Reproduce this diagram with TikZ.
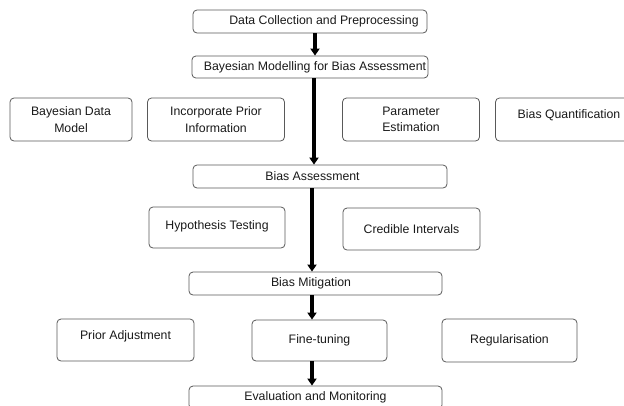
\documentclass[tikz,border=0pt]{standalone}
\usepackage{fontspec}
\setmainfont{Liberation Sans}
\usepackage{tikz}
\usetikzlibrary{arrows.meta,positioning}

\begin{document}
\begin{tikzpicture}[x=1pt,y=1pt,node distance=57pt,semithick]
    \tikzstyle{box}=[draw=black!65,line width=0.8pt,rounded corners=4pt,align=center,
        font=\fontsize{12.3}{16.5}\selectfont,text=black!90,inner sep=2pt]
    \tikzstyle{wide}=[box,minimum height=23pt]
    \tikzstyle{side}=[box,minimum width=137pt,minimum height=42pt]
    \tikzstyle{hitext}=[text height=9pt,text depth=10.2pt]
    \tikzstyle{midtext}=[text height=9pt,text depth=5.2pt]
    \tikzstyle{flow}=[line width=3.6pt,-{Triangle[width=9pt,length=7pt]}]

    \useasboundingbox (0,0) rectangle (624,-405);

    % main chain
    \node[wide,minimum width=234pt] (collect) at (310,-21.5) {\hspace*{28pt}Data Collection and Preprocessing};
    \node[wide,minimum width=235pt,minimum height=22pt] (model) [node distance=45.5pt,below of=collect] {\hspace*{10pt}Bayesian Modelling for Bias Assessment};
    \node[wide,minimum width=254pt] (assess) [node distance=109.5pt,below of=model,xshift=10pt] {Bias Assessment\hspace*{15pt}};
    \node[wide,minimum width=253pt] (mitig) [node distance=107pt,below of=assess,xshift=-4.5pt] {Bias Mitigation\hspace*{9pt}};
    \node[side,minimum width=135pt,minimum height=41pt] (tune) [node distance=57pt,below of=mitig,xshift=4pt] {Fine-tuning};
    \node[wide,minimum width=253pt] (evalmon) [node distance=57pt,below of=tune,xshift=-4pt] {Evaluation and Monitoring};

    % side boxes
    \node[side,minimum height=43pt] (prior) [node distance=52.5pt,below of=model,xshift=-94pt] {Incorporate Prior\\Information};
    \node[side,minimum width=122pt,minimum height=43pt] (datamodel) [node distance=145pt,left of=prior] {Bayesian Data\\Model};
    \node[side,minimum height=43pt] (param) [node distance=195pt,right of=prior] {Parameter\\Estimation};
    \node[side,minimum width=147pt,minimum height=43pt,hitext] (quant) [node distance=158pt,right of=param] {Bias Quantification};
    \node[side,minimum width=136pt,minimum height=41pt,midtext] (hypo) [node distance=51pt,below of=assess,xshift=-103pt] {Hypothesis Testing};
    \node[side] (cred) [node distance=194.5pt,right of=hypo,yshift=-1.5pt] {Credible Intervals};
    \node[side,hitext] (adjust) [node distance=194pt,left of=tune,yshift=0.5pt] {Prior Adjustment};
    \node[side,minimum width=135pt,minimum height=43pt] (regul) [node distance=190pt,right of=tune] {Regularisation};

    \path   ([xshift=5pt]collect.south)   edge[flow]  ([xshift=5pt]collect.south |- model.north)
            ([xshift=4pt]model.south)     edge[flow]  ([xshift=4pt]model.south |- assess.north)
            ([xshift=-8pt]assess.south)   edge[flow]  ([xshift=-8pt]assess.south |- mitig.north)
            ([xshift=-3.5pt]mitig.south)  edge[flow]  ([xshift=-3.5pt]mitig.south |- tune.north)
            ([xshift=-7.5pt]tune.south)   edge[flow]  ([xshift=-7.5pt]tune.south |- evalmon.north);

\end{tikzpicture}
\end{document}
